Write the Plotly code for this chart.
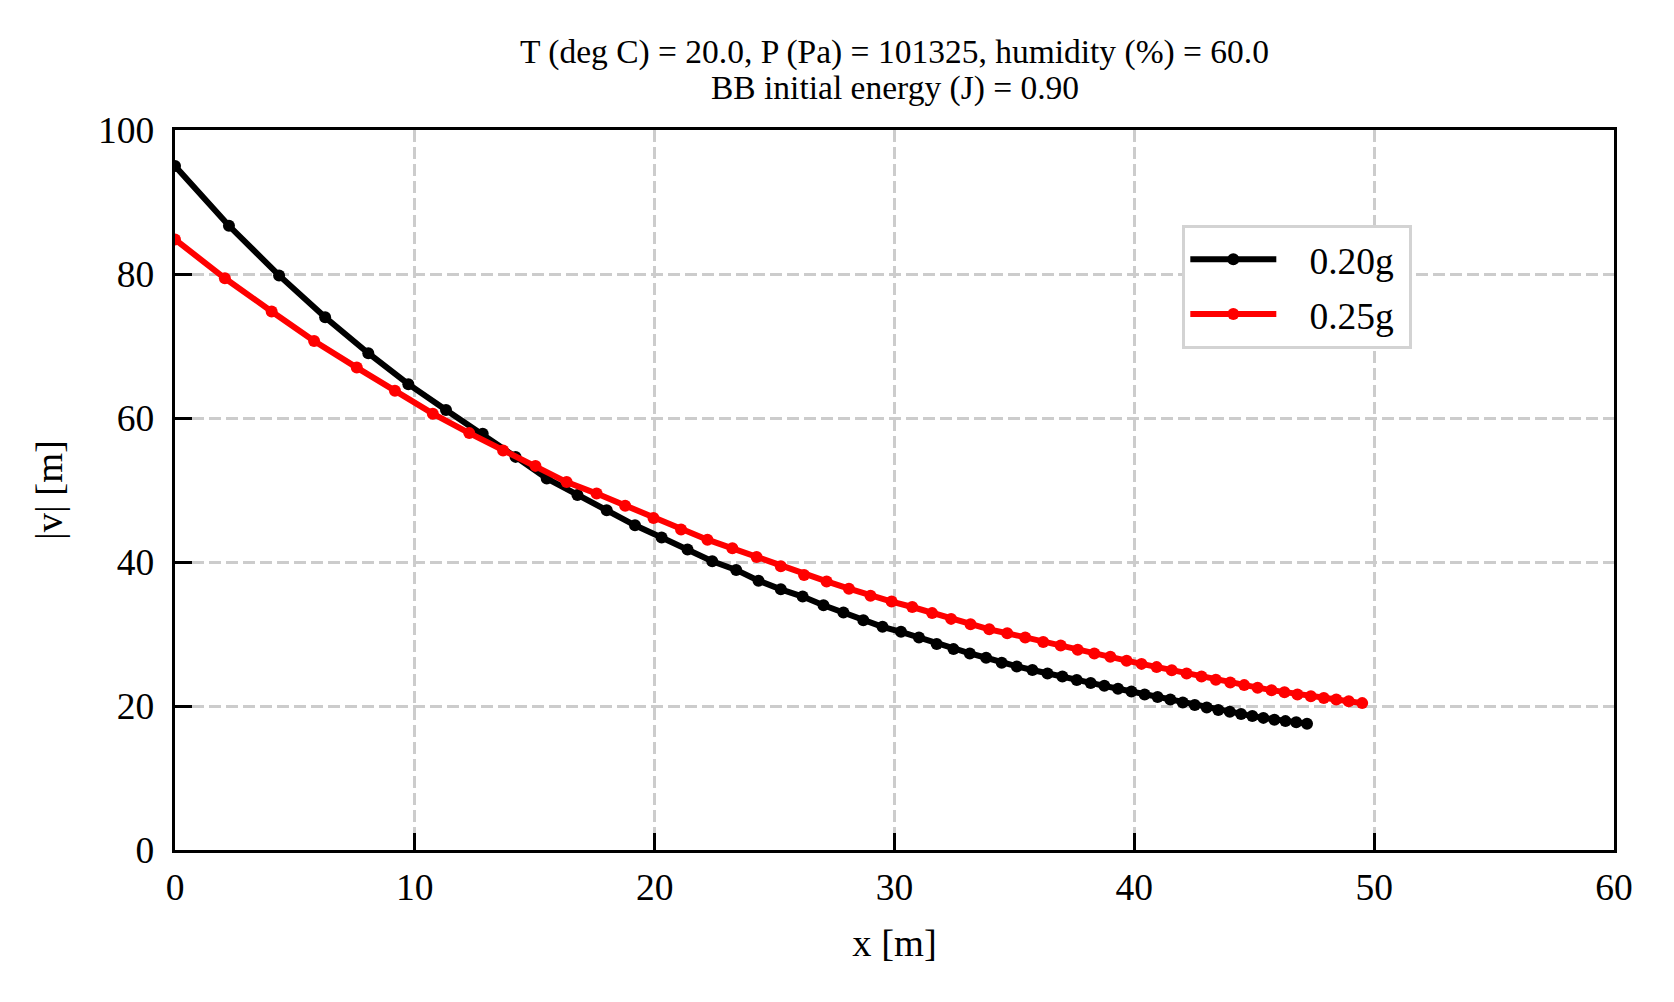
import plotly.graph_objects as go

# 0.20g series
x_020 = [0.0, 2.25, 4.34, 6.26, 8.06, 9.73, 11.3, 12.83, 14.2, 15.5, 16.78, 18.0, 19.18,
         20.29, 21.37, 22.4, 23.4, 24.33, 25.26, 26.17, 27.04, 27.87, 28.7, 29.5, 30.27,
         31.02, 31.76, 32.46, 33.14, 33.82, 34.47, 35.1, 35.75, 36.38, 37.0, 37.6, 38.18,
         38.75, 39.32, 39.88, 40.43, 40.97, 41.5, 42.02, 42.52, 43.02, 43.5, 43.98, 44.45,
         44.92, 45.38, 45.84, 46.3, 46.75, 47.2]
v_020 = [95.0, 86.7, 79.8, 74.0, 69.0, 64.7, 61.1, 57.8, 54.6, 51.6, 49.3, 47.2, 45.1,
         43.4, 41.75, 40.1, 38.9, 37.4, 36.2, 35.2, 34.0, 33.0, 31.9, 31.0, 30.3,
         29.5, 28.6, 27.9, 27.3, 26.7, 26.0, 25.5, 25.0, 24.5, 24.1, 23.6, 23.2,
         22.8, 22.4, 22.0, 21.6, 21.25, 20.9, 20.5, 20.15, 19.8, 19.45, 19.2, 18.9,
         18.6, 18.35, 18.1, 17.9, 17.75, 17.55]

# 0.25g series
x_025 = [0.0, 2.08, 4.03, 5.8, 7.58, 9.17, 10.75, 12.27, 13.68, 15.03, 16.33, 17.58, 18.77,
         19.95, 21.1, 22.2, 23.24, 24.25, 25.26, 26.23, 27.17, 28.1, 29.0, 29.88, 30.74,
         31.57, 32.36, 33.17, 33.95, 34.7, 35.45, 36.2, 36.93, 37.64, 38.33, 39.0, 39.68,
         40.3, 40.93, 41.56, 42.18, 42.8, 43.4, 44.0, 44.58, 45.14, 45.72, 46.26, 46.8,
         47.36, 47.9, 48.42, 48.94, 49.5]
v_025 = [84.8, 79.4, 74.8, 70.7, 67.0, 63.8, 60.6, 57.9, 55.5, 53.35, 51.1, 49.5, 47.8,
         46.1, 44.5, 43.1, 41.9, 40.7, 39.4, 38.2, 37.3, 36.3, 35.3, 34.5, 33.75,
         32.9, 32.1, 31.35, 30.65, 30.1, 29.5, 28.9, 28.4, 27.8, 27.3, 26.85, 26.3,
         25.85, 25.4, 24.95, 24.5, 24.1, 23.65, 23.25, 22.9, 22.55, 22.2, 21.9, 21.6,
         21.35, 21.1, 20.9, 20.65, 20.4]

names = ["0.20g", "0.25g"]
colors = ["black", "red"]
title_line1 = "T (deg C) = 20.0, P (Pa) = 101325, humidity (%) = 60.0"
title_line2 = "BB initial energy (J) = 0.90"
x_ticks = [0, 10, 20, 30, 40, 50, 60]
y_ticks = [0, 20, 40, 60, 80, 100]

FONT = "Liberation Serif, Times New Roman, serif"
NB = "\u00a0\u00a0\u00a0"

fig = go.Figure()
for i, (xs, ys, nm, c) in enumerate([(x_020, v_020, names[0], colors[0]),
                                      (x_025, v_025, names[1], colors[1])]):
    fig.add_trace(go.Scatter(x=xs, y=ys, name=NB + nm + "\u00a0", mode="lines+markers",
                             legendgroup="g%d" % i,
                             line=dict(color=c, width=6),
                             marker=dict(color=c, size=12)))

axis_common = dict(
    showline=True, linecolor="black", linewidth=3.3, mirror=True,
    ticks="inside", ticklen=17, tickwidth=3, tickcolor="black",
    showgrid=True, gridcolor="#cccccc", gridwidth=2.7, griddash="12px,5px",
    zeroline=False, tickfont=dict(family=FONT, size=37.5, color="black"),
)

L, T, PW, PH = 167, 122, 1439, 720
W, H = 1674, 1002

fig.update_layout(
    width=W, height=H,
    paper_bgcolor="white", plot_bgcolor="white",
    margin=dict(l=L, r=W - L - PW, t=T, b=H - T - PH),
    font=dict(family=FONT, color="black"),
    title=dict(text=title_line1, x=(L + PW / 2) / W, xanchor="center",
               y=1 - 43 / H, yanchor="middle",
               font=dict(family=FONT, size=33.5, color="black")),
    xaxis=dict(range=[0, 60], tickvals=x_ticks,
               title=dict(text="x [m]", font=dict(family=FONT, size=38.5), standoff=22),
               ticklabelstandoff=2,
               **axis_common),
    yaxis=dict(range=[0, 100], tickvals=y_ticks,
               title=dict(text="|v| [m]", font=dict(family=FONT, size=38.5), standoff=24),
               ticklabelstandoff=10,
               **axis_common),
    legend=dict(x=0.6998, y=0.868, xanchor="left", yanchor="top",
                bgcolor="white", bordercolor="#d3d3d3", borderwidth=3.3,
                font=dict(family=FONT, size=37.5, color="black"),
                itemwidth=86, tracegroupgap=3),
    showlegend=True,
    annotations=[dict(text=title_line2, xref="paper", yref="paper",
                      x=0.5, y=1 + (T - 80) / PH, xanchor="center", yanchor="middle",
                      showarrow=False, font=dict(family=FONT, size=33.5, color="black"))],
)

fig.write_html("out.html")
